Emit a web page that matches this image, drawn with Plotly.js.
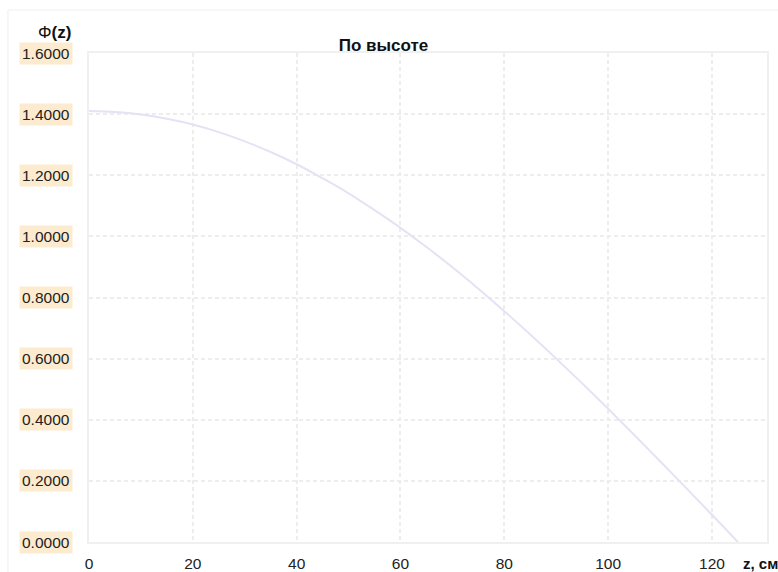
<!DOCTYPE html>
<html><head><meta charset="utf-8">
<script src="https://cdn.plot.ly/plotly-3.0.1.min.js"></script>
<style>html,body{margin:0;padding:0;background:#fff}</style>
</head><body><div id="chart" style="width:778px;height:572px"></div>
<script>
const zValues = [0,5,10,15,20,25,30,35,40,45,50,55,60,65,70,75,80,85,90,95,100,105,110,115,120,125];
const phiValues = [1.410,1.407,1.399,1.385,1.366,1.341,1.311,1.276,1.236,1.190,1.141,1.086,1.028,0.965,0.899,0.829,0.755,0.679,0.600,0.519,0.436,0.351,0.264,0.177,0.089,0.000];
const yTickValues = [0,0.2,0.4,0.6,0.8,1.0,1.2,1.4,1.6];
const yTickLabels = ["0.0000","0.2000","0.4000","0.6000","0.8000","1.0000","1.2000","1.4000","1.6000"];
const xTickValues = [0,20,40,60,80,100,120];
const chartTitle = "По высоте";
const yTitle = "Φ<b>(z)</b>";
const xTitle = "z, см";

const font = "Arial, 'Liberation Sans', sans-serif";
const annotations = yTickLabels.map((t,i)=>({
  xref:'paper', yref:'y', x:0, y:yTickValues[i], xanchor:'right', yanchor:'middle',
  xshift:-16, text:t, showarrow:false, bgcolor:'#fdebd0', borderpad:2,
  font:{family:font,size:15.5,color:'#222'}
}));
annotations.push({xref:'paper', yref:'paper', x:0, y:1, xanchor:'right', yanchor:'bottom', xshift:-16, yshift:9,
  text:yTitle, showarrow:false, font:{family:font,size:17,color:'#111'}});
annotations.push({xref:'paper', yref:'paper', x:1, y:0, xanchor:'right', yanchor:'top', xshift:13, yshift:-11,
  text:'<b>'+xTitle+'</b>', showarrow:false, font:{family:font,size:15,color:'#111'}});

const trace = {x:zValues, y:phiValues, type:'scatter', mode:'lines',
  line:{color:'#e3e3f5', width:2, shape:'spline'}, hoverinfo:'skip'};

const layout = {
  width:778, height:572,
  margin:{l:89, r:11, t:53, b:30},
  paper_bgcolor:'#fff', plot_bgcolor:'#fff',
  showlegend:false,
  title:{text:'<b>'+chartTitle+'</b>', x:0.493, xanchor:'center', y:0.921, yanchor:'middle', yref:'container',
    font:{family:font, size:17, color:'#111'}},
  xaxis:{range:[0,130.6], tickvals:xTickValues, ticktext:xTickValues.map(String),
    showgrid:true, gridcolor:'#ededed', griddash:'4px,3px', gridwidth:2,
    zeroline:false, showline:true, linecolor:'#f0f0f0', linewidth:2, mirror:true,
    ticks:'', tickfont:{family:font,size:15.5,color:'#222'}, ticklabelstandoff:6},
  yaxis:{range:[0,1.6], tickvals:yTickValues, showticklabels:false,
    showgrid:true, gridcolor:'#ededed', griddash:'4px,3px', gridwidth:2,
    zeroline:false, showline:true, linecolor:'#f0f0f0', linewidth:2, mirror:true, ticks:''},
  annotations:annotations,
  shapes:[{type:'rect', xref:'paper', yref:'paper', x0:-0.1195, x1:1.03, y0:-0.08, y1:1.088,
    line:{color:'#eeeeee', width:1}, layer:'below'}]
};
Plotly.newPlot('chart',[trace],layout,{displayModeBar:false, staticPlot:true});
</script></body></html>
